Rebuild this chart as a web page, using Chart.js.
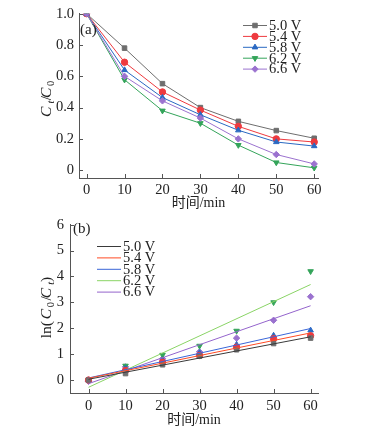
<!DOCTYPE html>
<html>
<head>
<meta charset="utf-8">
<script src="https://cdn.jsdelivr.net/npm/chart.js@4/dist/chart.umd.min.js"></script>
<style>
    html, body { margin: 0; padding: 0; background: #fff; }
    .panel { position: absolute; left: 0; width: 371px; }
    #panelA { top: 0; height: 210px; }
    #panelB { top: 210px; height: 216px; }
</style>
</head>
<body>
<div class="panel" id="panelA"><canvas id="chartA" width="371" height="210"></canvas></div>
<div class="panel" id="panelB"><canvas id="chartB" width="371" height="216"></canvas></div>
<script>
// shared categories
const times = [0, 10, 20, 30, 40, 50, 60];
const voltages = ['5.0 V', '5.4 V', '5.8 V', '6.2 V', '6.6 V'];

// (a) C_t / C_0
const ratio50 = [1.0, 0.78, 0.553, 0.40, 0.312, 0.253, 0.204];
const ratio54 = [1.0, 0.69, 0.50, 0.384, 0.28, 0.20, 0.18];
const ratio58 = [1.0, 0.64, 0.464, 0.354, 0.255, 0.18, 0.154];
const ratio62 = [1.0, 0.578, 0.38, 0.30, 0.16, 0.049, 0.015];
const ratio66 = [1.0, 0.60, 0.443, 0.333, 0.20, 0.10, 0.04];

// (b) ln(C_0 / C_t) measured points
const ln50 = [0, 0.25, 0.59, 0.92, 1.17, 1.41, 1.62];
const ln54 = [0, 0.37, 0.69, 0.95, 1.27, 1.60, 1.71];
const ln58 = [0, 0.45, 0.77, 1.05, 1.37, 1.72, 1.92];
const ln62 = [0, 0.55, 0.97, 1.32, 1.90, 3.00, 4.20];
const ln66 = [-0.05, 0.51, 0.82, 1.09, 1.62, 2.31, 3.22];

// (b) fitted lines, value at t = 0 and at t = 60
const fitTimes = [0, 60];
const fit50 = [0.03, 1.67];
const fit54 = [0.07, 1.82];
const fit58 = [0.08, 1.99];
const fit62 = [-0.28, 3.69];
const fit66 = [-0.14, 2.87];

const yTicksA = [0, 0.2, 0.4, 0.6, 0.8, 1.0];
const yTicksB = [0, 1, 2, 3, 4, 5, 6];

const ratios = [ratio50, ratio54, ratio58, ratio62, ratio66];
const lnPoints = [ln50, ln54, ln58, ln62, ln66];
const fits = [fit50, fit54, fit58, fit62, fit66];

const markerColors = ['#6e6e6e', '#ee3a3f', '#2a69c2', '#34a45a', '#9b72cf'];
const fitColors = ['#3a3a3a', '#ff4a24', '#3a66d8', '#8ad466', '#9464cc'];
const shapes = ['rect', 'circle', 'triangle', 'triangle', 'rectRot'];
const rotations = [0, 0, 0, 180, 0];

const SERIF = '"Liberation Serif", "Times New Roman", "Noto Sans CJK SC", serif';
const AXIS = '#555';
const TEXT = '#222';

const toXY = (xs, ys) => xs.map((x, i) => ({ x, y: ys[i] }));

// ticks drawn inside the plot, like the reference
const inwardTicks = {
    id: 'inwardTicks',
    afterDraw(chart) {
        const { ctx, chartArea } = chart;
        const x = chart.scales.x;
        const y = chart.scales.y;
        ctx.save();
        ctx.strokeStyle = AXIS;
        ctx.lineWidth = 1;
        ctx.beginPath();
        x.ticks.forEach(t => {
            const px = Math.round(x.getPixelForValue(t.value)) + 0.5;
            ctx.moveTo(px, chartArea.bottom);
            ctx.lineTo(px, chartArea.bottom - 4);
        });
        y.ticks.forEach(t => {
            const py = Math.round(y.getPixelForValue(t.value)) + 0.5;
            ctx.moveTo(chartArea.left, py);
            ctx.lineTo(chartArea.left + 4, py);
        });
        ctx.stroke();
        ctx.restore();
    }
};

// text with italic letters and subscripts
function drawRich(ctx, parts, cx, cy, rotate) {
    const fontOf = p => (p.italic ? 'italic ' : '') + (p.sub ? 10.5 : 15.5) + 'px ' + SERIF;
    let total = 0;
    parts.forEach(p => { ctx.font = fontOf(p); total += ctx.measureText(p.t).width + (p.gap || 0); });
    ctx.save();
    ctx.translate(cx, cy);
    if (rotate) ctx.rotate(-Math.PI / 2);
    ctx.fillStyle = TEXT;
    ctx.textBaseline = 'alphabetic';
    let pos = -total / 2;
    parts.forEach(p => {
        ctx.font = fontOf(p);
        ctx.fillText(p.t, pos, p.sub ? 8.5 : 5.5);
        pos += ctx.measureText(p.t).width + (p.gap || 0);
    });
    ctx.restore();
}

function makeDecor(opts) {
    return {
        id: 'decor',
        afterDraw(chart) {
            const { ctx, chartArea } = chart;
            ctx.save();
            ctx.fillStyle = TEXT;
            ctx.font = '15px ' + SERIF;
            ctx.textBaseline = 'middle';
            ctx.textAlign = 'left';
            ctx.fillText(opts.panel, opts.panelX, opts.panelY);

            ctx.textAlign = 'center';
            ctx.font = '14px ' + SERIF;
            ctx.fillText('时间/min', (chartArea.left + chartArea.right) / 2, opts.xTitleY);
            drawRich(ctx, opts.yTitle, opts.yTitleX, opts.yTitleY, true);

            // legend
            ctx.font = '14.5px ' + SERIF;
            ctx.textAlign = 'left';
            voltages.forEach((v, i) => {
                const y = opts.legendY + i * opts.legendStep;
                ctx.strokeStyle = opts.legendColors[i];
                ctx.lineWidth = 1;
                ctx.beginPath();
                ctx.moveTo(opts.legendX, y + 0.5);
                ctx.lineTo(opts.legendX + opts.legendLen, y + 0.5);
                ctx.stroke();
                if (opts.legendMarkers) {
                    ctx.fillStyle = markerColors[i];
                    ctx.strokeStyle = markerColors[i];
                    Chart.helpers.drawPoint(ctx, {
                        pointStyle: shapes[i], radius: 3.2, rotation: rotations[i], borderWidth: 1
                    }, opts.legendX + opts.legendLen / 2, y + 0.5);
                }
                ctx.fillStyle = TEXT;
                ctx.fillText(v, opts.legendX + opts.legendLen + 2, y + 1);
            });
            ctx.restore();
        }
    };
}

function axes(xMin, xMax, yMin, yMax, yTicks, yWidth, xHeight, yFmt, yPad, xPad) {
    const tickFont = { family: SERIF, size: 14.5 };
    return {
        x: {
            type: 'linear',
            min: xMin,
            max: xMax,
            afterBuildTicks: s => { s.ticks = times.map(v => ({ value: v })); },
            afterFit: s => { s.height = xHeight; },
            grid: { display: true, drawOnChartArea: false, drawTicks: false },
            border: { display: true, color: AXIS, width: 1 },
            ticks: { color: TEXT, font: tickFont, padding: xPad, maxRotation: 0, autoSkip: false }
        },
        y: {
            min: yMin,
            max: yMax,
            afterBuildTicks: s => { s.ticks = yTicks.map(v => ({ value: v })); },
            afterFit: s => { s.width = yWidth; },
            grid: { display: true, drawOnChartArea: false, drawTicks: false },
            border: { display: true, color: AXIS, width: 1 },
            ticks: { color: TEXT, font: tickFont, padding: yPad, autoSkip: false, callback: yFmt }
        }
    };
}

const common = {
    responsive: false,
    animation: false,
    plugins: { legend: { display: false }, tooltip: { enabled: false } }
};

// (a)
new Chart(document.getElementById('chartA'), {
    type: 'line',
    data: {
        datasets: ratios.map((r, i) => ({
            label: voltages[i],
            data: toXY(times, r),
            borderColor: markerColors[i],
            backgroundColor: markerColors[i],
            borderWidth: 1,
            pointStyle: shapes[i],
            rotation: rotations[i],
            pointRadius: 3.2,
            pointBorderWidth: 1,
            tension: 0
        })).reverse()
    },
    options: {
        ...common,
        layout: { padding: { left: 0, top: 12, right: 53, bottom: 0 } },
        scales: axes(-2, 61, -0.05, 1.0, yTicksA, 79, 32, v => (v === 0 ? '0' : v.toFixed(1)), 5, 3)
    },
    plugins: [inwardTicks, makeDecor({
        panel: '(a)', panelX: 80, panelY: 30,
        xTitleY: 203,
        yTitle: [{ t: 'C', italic: true, gap: -0.5 }, { t: 't', italic: true, sub: true, gap: 1 }, { t: '/', gap: 1 },
                 { t: 'C', italic: true, gap: -1 }, { t: '0', sub: true }],
        yTitleX: 45, yTitleY: 95,
        legendX: 243, legendY: 25, legendStep: 10.9, legendLen: 24,
        legendColors: markerColors, legendMarkers: true
    })]
});

// (b)
const scatterSets = lnPoints.map((p, i) => ({
    type: 'scatter',
    label: voltages[i],
    data: toXY(times, p),
    showLine: false,
    borderColor: markerColors[i],
    backgroundColor: markerColors[i],
    pointStyle: shapes[i],
    rotation: rotations[i],
    pointRadius: 3.2,
    pointBorderWidth: 1
}));
const fitSets = fits.map((f, i) => ({
    type: 'line',
    label: voltages[i] + ' fit',
    data: toXY(fitTimes, f),
    borderColor: fitColors[i],
    borderWidth: 1,
    pointRadius: 0,
    tension: 0
}));

new Chart(document.getElementById('chartB'), {
    type: 'line',
    data: { datasets: [...fitSets, ...scatterSets] },
    options: {
        ...common,
        layout: { padding: { left: 0, top: 11, right: 53, bottom: 0 } },
        scales: axes(-5, 62, -0.5, 6, yTicksB, 70, 33, v => String(v), 6, 4)
    },
    plugins: [inwardTicks, makeDecor({
        panel: '(b)', panelX: 73, panelY: 19,
        xTitleY: 210,
        yTitle: [{ t: 'ln(', gap: -1.5 }, { t: 'C', italic: true, gap: -1 }, { t: '0', sub: true, gap: 1 }, { t: '/', gap: 1 },
                 { t: 'C', italic: true, gap: -0.5 }, { t: 't', italic: true, sub: true, gap: 1 }, { t: ')' }],
        yTitleX: 45, yTitleY: 92,
        legendX: 97, legendY: 36, legendStep: 11.4, legendLen: 24,
        legendColors: fitColors, legendMarkers: false
    })]
});
</script>
</body>
</html>
